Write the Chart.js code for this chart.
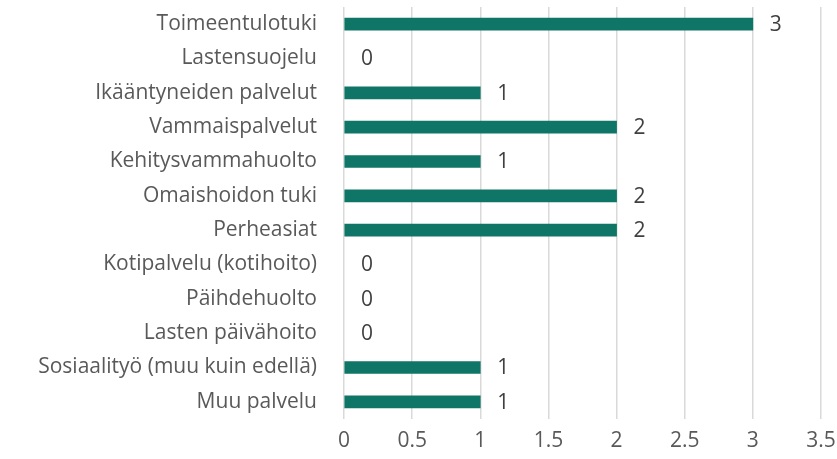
<!DOCTYPE html>
<html>
<head>
    <meta charset="utf-8">
    <title>Palvelut</title>
    <script src="https://cdn.jsdelivr.net/npm/chart.js"></script>
    <style>
        body { margin: 0; background: #fff; }
    </style>
</head>
<body>
    <canvas id="barChart" width="837" height="459"></canvas>

    <script>
        const categories = [
            'Toimeentulotuki', 'Lastensuojelu', 'Ikääntyneiden palvelut', 'Vammaispalvelut',
            'Kehitysvammahuolto', 'Omaishoidon tuki', 'Perheasiat', 'Kotipalvelu (kotihoito)',
            'Päihdehuolto', 'Lasten päivähoito', 'Sosiaalityö (muu kuin edellä)', 'Muu palvelu'
        ];
        const counts = [3, 0, 1, 2, 1, 2, 2, 0, 0, 0, 1, 1];
        const xTicks = [0, 0.5, 1, 1.5, 2, 2.5, 3, 3.5];

        const FONT = '"Open Sans", sans-serif';
        const FONT_SIZE = 21;

        // Draw the value next to each bar end
        const valueLabels = {
            id: 'valueLabels',
            afterDatasetsDraw(chart) {
                const ctx = chart.ctx;
                const meta = chart.getDatasetMeta(0);
                ctx.save();
                ctx.font = FONT_SIZE + 'px ' + FONT;
                ctx.fillStyle = '#404040';
                ctx.textAlign = 'left';
                ctx.textBaseline = 'middle';
                meta.data.forEach((bar, i) => {
                    ctx.fillText(String(counts[i]), bar.x + 17, bar.y + 1);
                });
                ctx.restore();
            }
        };

        const ctx = document.getElementById('barChart').getContext('2d');
        new Chart(ctx, {
            type: 'bar',
            data: {
                labels: categories,
                datasets: [{
                    data: counts,
                    // zero rows get no visible sliver
                    backgroundColor: counts.map(v => v > 0 ? '#0f7566' : 'rgba(0,0,0,0)'),
                    borderWidth: 0,
                    barThickness: 12
                }]
            },
            options: {
                indexAxis: 'y',
                responsive: false,
                animation: false,
                layout: { padding: { top: 7, right: 16, left: 0, bottom: 0 } },
                plugins: { legend: { display: false }, tooltip: { enabled: false } },
                scales: {
                    x: {
                        min: 0,
                        max: 3.5,
                        afterBuildTicks: axis => { axis.ticks = xTicks.map(v => ({ value: v })); },
                        afterFit: axis => {
                            axis.height = 40;
                            axis.paddingLeft = 0;
                            axis.paddingRight = 0;
                        },
                        grid: { color: '#d9d9d9', lineWidth: 1.5, drawTicks: false },
                        border: { display: false },
                        ticks: {
                            color: '#595959',
                            padding: 9,
                            callback: v => String(v),
                            font: { family: FONT, size: FONT_SIZE }
                        }
                    },
                    y: {
                        grid: { display: false },
                        border: { display: false },
                        afterFit: axis => {
                            axis.width = 344;
                            axis.paddingTop = 0;
                            axis.paddingBottom = 0;
                        },
                        ticks: {
                            color: '#595959',
                            padding: 19,
                            font: { family: FONT, size: FONT_SIZE }
                        }
                    }
                }
            },
            plugins: [valueLabels]
        });
    </script>
</body>
</html>
